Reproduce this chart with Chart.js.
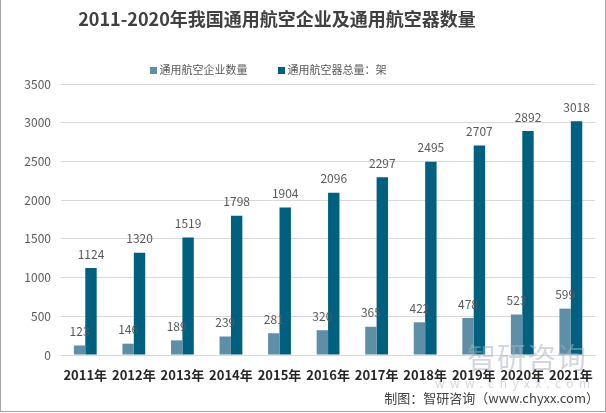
<!DOCTYPE html>
<html>
<head>
<meta charset="utf-8">
<script src="https://cdn.jsdelivr.net/npm/chart.js@4"></script>
<style>
  html, body { margin: 0; padding: 0; background: #fff; }
  .chart-frame {
    position: relative; width: 604px; height: 411px;
    border-left: 1px solid #a6a6a6; border-right: 1px solid #a6a6a6; border-bottom: 1px solid #a6a6a6;
    overflow: hidden; font-family: "Noto Sans CJK SC", sans-serif;
  }
  .chart-title {
    position: absolute; left: 0; width: 552px; top: 5px; text-align: center;
    font-size: 18px; font-weight: bold; color: #404040; line-height: 26px; white-space: nowrap;
  }
  .chart-key {
    position: absolute; left: 0; width: 534px; top: 61px; text-align: center;
    font-size: 11px; color: #595959; line-height: 16px; white-space: nowrap;
  }
  .chart-key i { display: inline-block; width: 7px; height: 7px; margin: 0 3px 1px 0; vertical-align: middle; }
  .chart-key .gap { display: inline-block; width: 30px; }
  .watermark {
    position: absolute; left: 434px; top: 338px; color: rgba(165, 175, 192, 0.5);
    white-space: nowrap; pointer-events: none;
  }
  .watermark .wm-name { font-size: 29px; letter-spacing: 1px; margin-left: 32px; line-height: 36px; }
  .watermark .wm-url { font-size: 12px; letter-spacing: 5.4px; line-height: 14px; margin-top: 2px; }
  .source {
    position: absolute; right: 6px; top: 388px; font-size: 13px; color: #404040; line-height: 20px; white-space: nowrap;
  }
  canvas { position: absolute; left: 0; top: 0; }
</style>
</head>
<body>
<div class="chart-frame">
  <canvas id="aviationChart" width="604" height="411"></canvas>
  <div class="chart-title">2011-2020年我国通用航空企业及通用航空器数量</div>
  <div class="chart-key">
    <i style="background:#5f8fa6"></i>通用航空企业数量<span class="gap"></span><i style="background:#00607f"></i>通用航空器总量：架
  </div>
  <div class="watermark">
    <div class="wm-name">智研咨询</div>
    <div class="wm-url">www.chyxx.com</div>
  </div>
  <div class="source">制图：智研咨询（www.chyxx.com）</div>
</div>
<script>
const years = ['2011年', '2012年', '2013年', '2014年', '2015年', '2016年', '2017年', '2018年', '2019年', '2020年', '2021年'];
const companyCount = [123, 146, 189, 239, 281, 320, 365, 422, 478, 523, 599];
const aircraftTotal = [1124, 1320, 1519, 1798, 1904, 2096, 2297, 2495, 2707, 2892, 3018];
const yTicks = [0, 500, 1000, 1500, 2000, 2500, 3000, 3500];

// value labels above each bar, positioned from the bar elements
const barValueLabels = {
  id: 'barValueLabels',
  afterDatasetsDraw(chart) {
    const { ctx } = chart;
    ctx.save();
    ctx.font = '12px "Noto Sans CJK SC", sans-serif';
    ctx.fillStyle = '#595959';
    ctx.textAlign = 'center';
    ctx.textBaseline = 'middle';
    chart.data.datasets.forEach((ds, di) => {
      chart.getDatasetMeta(di).data.forEach((bar, i) => {
        ctx.fillText(String(ds.data[i]), bar.x, bar.y - 14);
      });
    });
    ctx.restore();
  },
};

new Chart(document.getElementById('aviationChart'), {
  type: 'bar',
  data: {
    labels: years,
    datasets: [
      { label: '通用航空企业数量', data: companyCount, backgroundColor: '#5f8fa6' },
      { label: '通用航空器总量：架', data: aircraftTotal, backgroundColor: '#00607f' },
    ],
  },
  options: {
    responsive: false,
    animation: false,
    layout: { padding: { top: 84, right: 7, left: 0, bottom: 0 } },
    datasets: { bar: { categoryPercentage: 0.47, barPercentage: 1 } },
    plugins: { legend: { display: false }, title: { display: false }, tooltip: { enabled: false } },
    scales: {
      x: {
        grid: { display: false, drawTicks: false },
        border: { display: true, color: '#d9d9d9' },
        ticks: {
          padding: 12, color: '#262626', maxRotation: 0, minRotation: 0, autoSkip: false,
          font: { size: 13, weight: 'bold', family: '"Noto Sans CJK SC", sans-serif' },
        },
        afterFit: (s) => { s.height = 56; },
      },
      y: {
        min: 0,
        max: 3500,
        afterBuildTicks: (s) => { s.ticks = yTicks.map((v) => ({ value: v })); },
        grid: { color: '#d9d9d9', drawTicks: false },
        border: { display: false },
        ticks: {
          padding: 10, color: '#595959', callback: (v) => String(v),
          font: { size: 12, family: '"Noto Sans CJK SC", sans-serif' },
        },
        afterFit: (s) => { s.width = 60; },
      },
    },
  },
  plugins: [barValueLabels],
});
</script>
</body>
</html>
